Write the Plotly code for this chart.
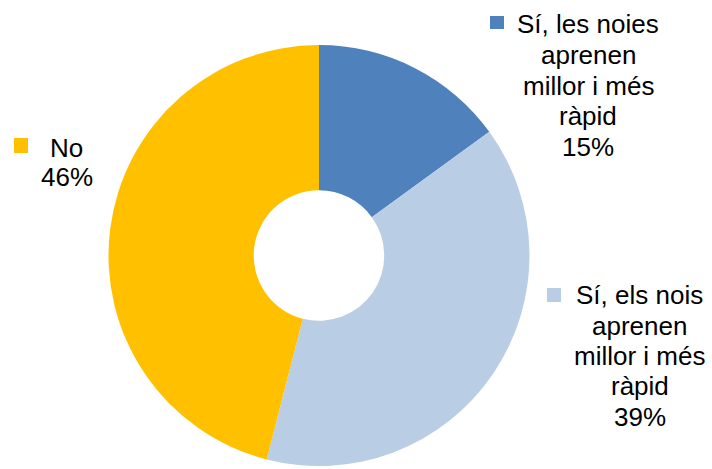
import plotly.graph_objects as go

# Data
categories = ["Sí, les noies aprenen millor i més ràpid",
              "Sí, els nois aprenen millor i més ràpid",
              "No"]
label_lines = [["Sí, les noies", "aprenen", "millor i més", "ràpid"],
               ["Sí, els nois", "aprenen", "millor i més", "ràpid"],
               ["No"]]
values = [15, 39, 46]
colors = ["#4F81BD", "#B9CDE5", "#FFC000"]

W, H = 712, 469
FS = 26


def px(x):
    return x / W


def py(y):
    return 1 - y / H


fig = go.Figure()
fig.add_trace(go.Pie(
    labels=categories,
    values=values,
    marker=dict(colors=colors, line=dict(width=0)),
    hole=0.31,
    sort=False,
    direction="clockwise",
    rotation=0,
    textinfo="none",
    hoverinfo="label+percent",
    domain=dict(x=[px(108), px(530)], y=[py(466), py(45)]),
    showlegend=False,
))

# label placement (pixels): text centre x, first baseline y, line step; marker square box
text_pos = [(588, 33.3, 30.7), (639.5, 304.3, 30.4), (66.5, 156.7, 29.5)]
squares = [(490, 16, 504, 29), (547, 288, 561, 302), (14, 138, 28, 153)]

total = sum(values)
annotations = []
shapes = []
for i, (lines, v) in enumerate(zip(label_lines, values)):
    pct = round(100 * v / total)
    all_lines = lines + [f"{pct}%"]
    cx, by, step = text_pos[i]
    for j, line in enumerate(all_lines):
        base = by + j * step
        annotations.append(dict(
            text=line, x=px(cx), y=py(base - 0.35 * FS), xref="paper", yref="paper",
            xanchor="center", yanchor="middle", showarrow=False, align="center",
            font=dict(family="Liberation Sans, Arial, sans-serif", size=FS, color="#000000"),
        ))
    x0, y0, x1, y1 = squares[i]
    shapes.append(dict(
        type="rect", xref="paper", yref="paper",
        x0=px(x0), x1=px(x1), y0=py(y1), y1=py(y0),
        fillcolor=colors[i], line=dict(width=0),
    ))

fig.update_layout(
    width=W, height=H,
    margin=dict(l=0, r=0, t=0, b=0),
    paper_bgcolor="#FFFFFF",
    plot_bgcolor="#FFFFFF",
    annotations=annotations,
    shapes=shapes,
)

fig.write_html(
    "out.html",
    config={"displayModeBar": False},
    post_script="document.body.style.margin='0';document.body.style.overflow='hidden';",
)
